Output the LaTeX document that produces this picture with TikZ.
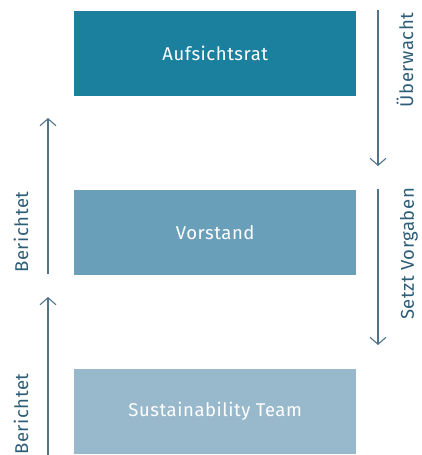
\documentclass[tikz,border=0pt]{standalone}
\usepackage{fontspec}
\setmainfont{Fira Sans}[LetterSpace=3]
\usetikzlibrary{arrows.meta}
\definecolor{boxa}{HTML}{1B7F9E}
\definecolor{boxb}{HTML}{6A9FBA}
\definecolor{boxc}{HTML}{98B8CC}
\definecolor{arrowcol}{HTML}{4F7389}
\definecolor{labelcol}{HTML}{2E5D78}
\tikzset{
	orgbox/.style={anchor=north west, minimum width=282pt, minimum height=85pt, inner sep=0pt, text=white, font=\fontsize{18.5}{20}\selectfont},
	flow/.style={draw=arrowcol, line width=1.1pt, -{Straight Barb[length=7pt,width=16pt,line width=1.1pt]}},
	flowlabel/.style={rotate=90, inner sep=0pt, text=labelcol, font=\fontsize{18.5}{20}\selectfont}
}

\begin{document}
\begin{tikzpicture}[x=1pt,y=-1pt]
		%%%%% START %%%%%
		\useasboundingbox (0, 0) rectangle (421, 455);
		
		\node[orgbox, fill=boxa] (aufsicht) at (74, 11) {Aufsichtsrat};
		\node[orgbox, fill=boxb] (vorstand) at (74, 190) {Vorstand};
		\node[orgbox, fill=boxc] (team) at (74, 369) {Sustainability Team};
		
		\coordinate (ueb-a) at (378, 10);
		\coordinate (ueb-b) at (378, 166);
		\coordinate (setzt-a) at (378, 189);
		\coordinate (setzt-b) at (378, 345);
		\draw[flow] (ueb-a) -- (ueb-b);
		\draw[flow] (setzt-a) -- (setzt-b);
		
		\coordinate (ber-a) at (48, 274);
		\coordinate (ber-b) at (48, 118);
		\coordinate (ber-c) at (48, 455);
		\coordinate (ber-d) at (48, 297);
		\draw[flow] (ber-a) -- (ber-b);
		\draw[flow] (ber-c) -- (ber-d);
		
		\node[flowlabel] (ueb-text) at (405, 60) {Überwacht};
		\node[flowlabel] (setzt-text) at (409, 254) {Setzt Vorgaben};
		\node[flowlabel] (ber-text) at (21, 232) {Berichtet};
		\node[flowlabel] (ber-text2) at (21, 414) {Berichtet};
		
		%%%%% END %%%%%
	\end{tikzpicture}
\end{document}
